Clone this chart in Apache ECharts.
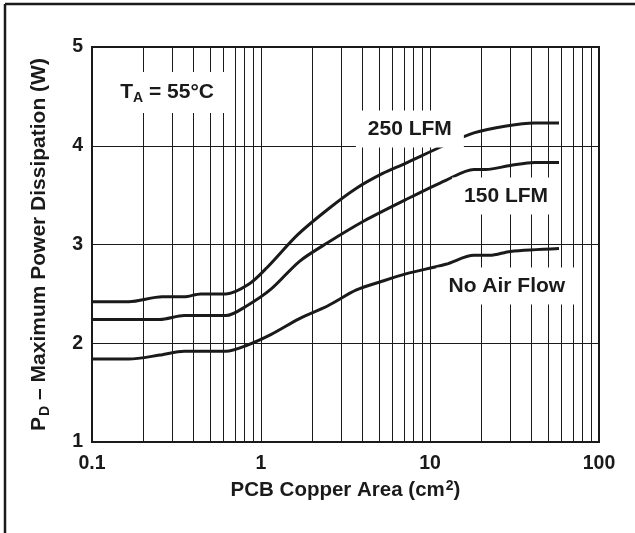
<!DOCTYPE html>
<html>
<head>
<meta charset="utf-8">
<script src="https://cdn.jsdelivr.net/npm/echarts@6/dist/echarts.min.js"></script>
<style>
  html, body { margin: 0; padding: 0; background: #fff; }
  #chart { width: 635px; height: 533px; }
</style>
</head>
<body>
<div id="chart"></div>
<script>
// PCB copper area (cm2) vs max power dissipation (W), TA = 55 C
const areaLfm250 = [0.1, 0.165, 0.26, 0.35, 0.44, 0.62, 0.85, 1.09, 1.65, 2.5, 3.67, 5.25, 7.1, 12, 18.2, 28.3, 41.6, 58];
const pdLfm250 = [2.42, 2.42, 2.47, 2.47, 2.5, 2.5, 2.6, 2.77, 3.1, 3.36, 3.57, 3.72, 3.82, 4.0, 4.13, 4.2, 4.23, 4.23];

const areaLfm150 = [0.1, 0.252, 0.351, 0.62, 0.826, 1.15, 1.69, 2.49, 4.09, 7.11, 12.4, 18.2, 21.4, 29.9, 41.6, 58];
const pdLfm150 = [2.24, 2.24, 2.28, 2.28, 2.38, 2.55, 2.83, 3.02, 3.24, 3.45, 3.65, 3.76, 3.76, 3.8, 3.83, 3.83];

const areaNoAir = [0.1, 0.165, 0.252, 0.351, 0.62, 0.826, 1.15, 1.69, 2.49, 3.67, 5.25, 7.11, 12.4, 18.2, 22.6, 29.9, 58];
const pdNoAir = [1.84, 1.84, 1.88, 1.92, 1.92, 1.98, 2.09, 2.25, 2.38, 2.54, 2.63, 2.7, 2.8, 2.89, 2.89, 2.93, 2.96];

// minor log grid lines (2..9 of each decade)
const minorX = [0.2, 0.3, 0.4, 0.5, 0.6, 0.7, 0.8, 0.9, 2, 3, 4, 5, 6, 7, 8, 9, 20, 30, 40, 50, 60, 70, 80, 90];

// curve labels: [x, y, text]
const notes = [
  [0.278, 4.54, "{t|T}{s|A}{t| = 55°C}"],
  [7.6, 4.17, "{t|250 LFM}"],
  [28.2, 3.49, "{t|150 LFM}"],
  [28.5, 2.58, "{t|No Air Flow}"]
];

const FONT = "'Liberation Sans', Arial, Helvetica, sans-serif";
const INK = "#1a1a1a";

const chart = echarts.init(document.getElementById("chart"));

function pairs(xs, ys) {
  return xs.map((x, i) => [x, ys[i]]);
}

function curve(name, xs, ys) {
  return {
    name: name,
    type: "line",
    z: 4,
    data: pairs(xs, ys),
    symbol: "none",
    smooth: 0.3,
    silent: true,
    lineStyle: { color: INK, width: 3 }
  };
}

chart.setOption({
  animation: false,
  backgroundColor: "#fff",
  textStyle: { fontFamily: FONT },
  graphic: [
    { type: "line", shape: { x1: 5, y1: 4, x2: 635, y2: 4 }, style: { stroke: INK, lineWidth: 2.5 } },
    { type: "line", shape: { x1: 5, y1: 4, x2: 5, y2: 533 }, style: { stroke: INK, lineWidth: 2.5 } }
  ],
  grid: {
    left: 92,
    right: 36,
    top: 47,
    bottom: 91,
    show: true,
    borderColor: INK,
    borderWidth: 2,
    backgroundColor: "transparent"
  },
  xAxis: {
    type: "log",
    logBase: 10,
    min: 0.1,
    max: 100,
    name: "{t|PCB Copper Area (cm}{u|2}{t|)}",
    nameLocation: "middle",
    nameGap: 37,
    nameTextStyle: {
      rich: {
        t: { fontFamily: FONT, fontWeight: "bold", fontSize: 20.5, color: INK },
        u: { fontFamily: FONT, fontWeight: "bold", fontSize: 14, color: INK, padding: [0, 0, 9, 1] }
      }
    },
    axisLine: { lineStyle: { color: INK, width: 2 } },
    axisTick: { show: false },
    axisLabel: {
      margin: 12,
      color: INK,
      fontFamily: FONT,
      fontWeight: "bold",
      fontSize: 19.5,
      formatter: v => String(v)
    },
    splitLine: { show: true, lineStyle: { color: INK, width: 1 } }
  },
  yAxis: {
    type: "value",
    min: 1,
    max: 5,
    interval: 1,
    name: "{t|P}{s|D}{t| – Maximum Power Dissipation (W)}",
    nameLocation: "middle",
    nameGap: 40,
    nameTextStyle: {
      rich: {
        t: { fontFamily: FONT, fontWeight: "bold", fontSize: 21, color: INK },
        s: { fontFamily: FONT, fontWeight: "bold", fontSize: 14, color: INK, padding: [11, 0, 0, 1] }
      }
    },
    axisLine: { lineStyle: { color: INK, width: 2 } },
    axisTick: { show: false },
    axisLabel: {
      margin: 9,
      color: INK,
      fontFamily: FONT,
      fontWeight: "bold",
      fontSize: 19.5
    },
    splitLine: { show: true, lineStyle: { color: INK, width: 1 } }
  },
  series: [
    {
      name: "minor",
      type: "line",
      z: 1,
      data: [],
      silent: true,
      markLine: {
        silent: true,
        symbol: ["none", "none"],
        label: { show: false },
        lineStyle: { color: INK, width: 1, type: "solid" },
        data: minorX.map(v => ({ xAxis: v }))
      }
    },
    {
      name: "notes",
      type: "line",
      z: 2,
      data: [],
      silent: true,
      markPoint: {
        silent: true,
        symbol: "rect",
        symbolSize: 1,
        itemStyle: { color: "rgba(0,0,0,0)" },
        label: {
          show: true,
          position: "inside",
          backgroundColor: "#fff",
          padding: [8, 12],
          formatter: p => p.data.text,
          rich: {
            t: { fontFamily: FONT, fontWeight: "bold", fontSize: 21, color: INK },
            s: { fontFamily: FONT, fontWeight: "bold", fontSize: 14, color: INK, padding: [11, 0, 0, 0] }
          }
        },
        data: notes.map(n => ({ coord: [n[0], n[1]], text: n[2] }))
      }
    },
    curve("250 LFM", areaLfm250, pdLfm250),
    curve("150 LFM", areaLfm150, pdLfm150),
    curve("No Air Flow", areaNoAir, pdNoAir)
  ]
});
</script>
</body>
</html>
